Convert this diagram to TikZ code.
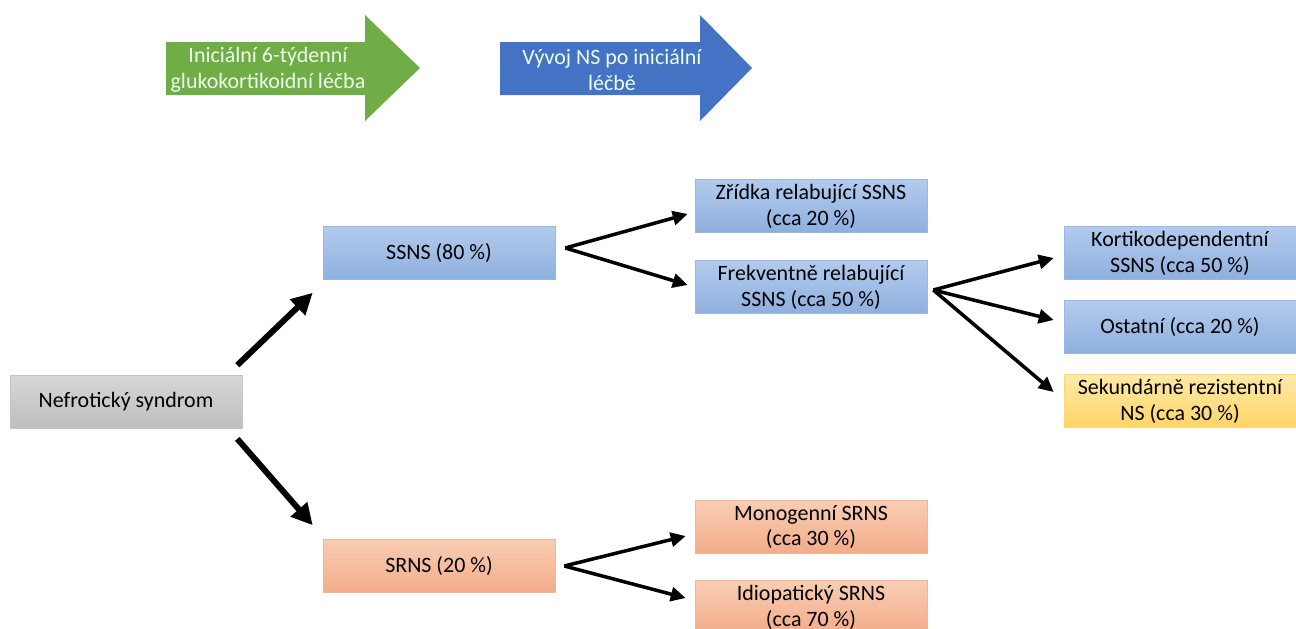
\documentclass[tikz,border=0pt]{standalone}
\usepackage{fontspec}
\setmainfont{Carlito}
\usetikzlibrary{arrows.meta,calc}

\definecolor{greenarrow}{HTML}{70AD47}
\definecolor{bluearrow}{HTML}{4472C4}
\definecolor{blueA}{HTML}{B2CBEE}
\definecolor{blueB}{HTML}{8EAFDD}
\definecolor{grayA}{HTML}{D6D6D6}
\definecolor{grayB}{HTML}{BEBEBE}
\definecolor{orangeA}{HTML}{F9CDB2}
\definecolor{orangeB}{HTML}{F2AC8A}
\definecolor{yellowA}{HTML}{FFE9A8}
\definecolor{yellowB}{HTML}{FFD466}

\tikzset{
  box/.style={minimum width=4.64cm, minimum height=1.06cm, inner sep=1pt,
    align=center, line width=0.4pt, font=\fontsize{12.5}{14.7}\selectfont},
  bluebox/.style={box, top color=blueA, bottom color=blueB, draw=blueB!90!white},
  graybox/.style={box, top color=grayA, bottom color=grayB, draw=grayB!90!white},
  orangebox/.style={box, top color=orangeA, bottom color=orangeB, draw=orangeB!90!white},
  yellowbox/.style={box, top color=yellowA, bottom color=yellowB, draw=yellowB!90!white},
  arrowtext/.style={text=white!92!green, align=center, font=\fontsize{12.5}{14.7}\selectfont},
  bigarrow/.style={line width=3.4pt, -{Triangle[length=12pt,width=12pt]}},
  smallarrow/.style={line width=2pt, -{Triangle[length=8.5pt,width=8pt]}}
}

\begin{document}
\begin{tikzpicture}[x=0.02cm,y=-0.02cm]
\useasboundingbox (0,0) rectangle (1296,629);
% block arrows on top
\fill[greenarrow] (166,42) -- (365,42) -- (365,15) -- (420,68) -- (365,121) -- (365,95) -- (166,95) -- cycle;
\fill[bluearrow] (500,42) -- (700,42) -- (700,15) -- (752,68) -- (700,121) -- (700,95) -- (500,95) -- cycle;
\node[arrowtext] (phase1) at (268,70) {Iniciální 6-týdenní\\glukokortikoidní léčba};
\node[arrowtext] (phase2) at (612,70) {Vývoj NS po iniciální\\léčbě};
% boxes
\node[graybox] (nefro) at (126,402) {Nefrotický syndrom};
\node[bluebox] (ssns) at (439,253) {SSNS (80 \%)};
\node[orangebox] (srns) at (439,566) {SRNS (20 \%)};
\node[bluebox] (zridka) at (811,206) {Zřídka relabující SSNS\\(cca 20 \%)};
\node[bluebox] (frek) at (811,287) {Frekventně relabující\\SSNS (cca 50 \%)};
\node[orangebox] (mono) at (811,527) {Monogenní SRNS\\(cca 30 \%)};
\node[orangebox] (idio) at (811,607) {Idiopatický SRNS\\(cca 70 \%)};
\node[bluebox] (kortiko) at (1180,253) {Kortikodependentní\\SSNS (cca 50 \%)};
\node[bluebox] (ostatni) at (1180,327) {Ostatní (cca 20 \%)};
\node[yellowbox] (sekund) at (1180,401) {Sekundárně rezistentní\\NS (cca 30 \%)};
% connectors
\draw[bigarrow] ($(nefro.north east)+(-5,-10)$) -- ($(ssns.south west)+(-10,13)$);
\draw[bigarrow] ($(nefro.south east)+(-5,10)$) -- ($(srns.north west)+(-10,-14)$);
\coordinate (ssnsfork) at ($(ssns.east)+(10,-5)$);
\draw[smallarrow] (ssnsfork) -- ($(zridka.west)+(-7,8)$);
\draw[smallarrow] (ssnsfork) -- ($(frek.west)+(-7,-2)$);
\coordinate (frekfork) at ($(frek.east)+(6,3)$);
\draw[smallarrow] (frekfork) -- ($(kortiko.west)+(-10,5)$);
\draw[smallarrow] (frekfork) -- ($(ostatni.west)+(-10,-7)$);
\draw[smallarrow] (frekfork) -- ($(sekund.west)+(-10,-9)$);
\coordinate (srnsfork) at ($(srns.east)+(9,0)$);
\draw[smallarrow] (srnsfork) -- ($(mono.west)+(-9,9)$);
\draw[smallarrow] (srnsfork) -- ($(idio.west)+(-9,-9)$);
\end{tikzpicture}
\end{document}
